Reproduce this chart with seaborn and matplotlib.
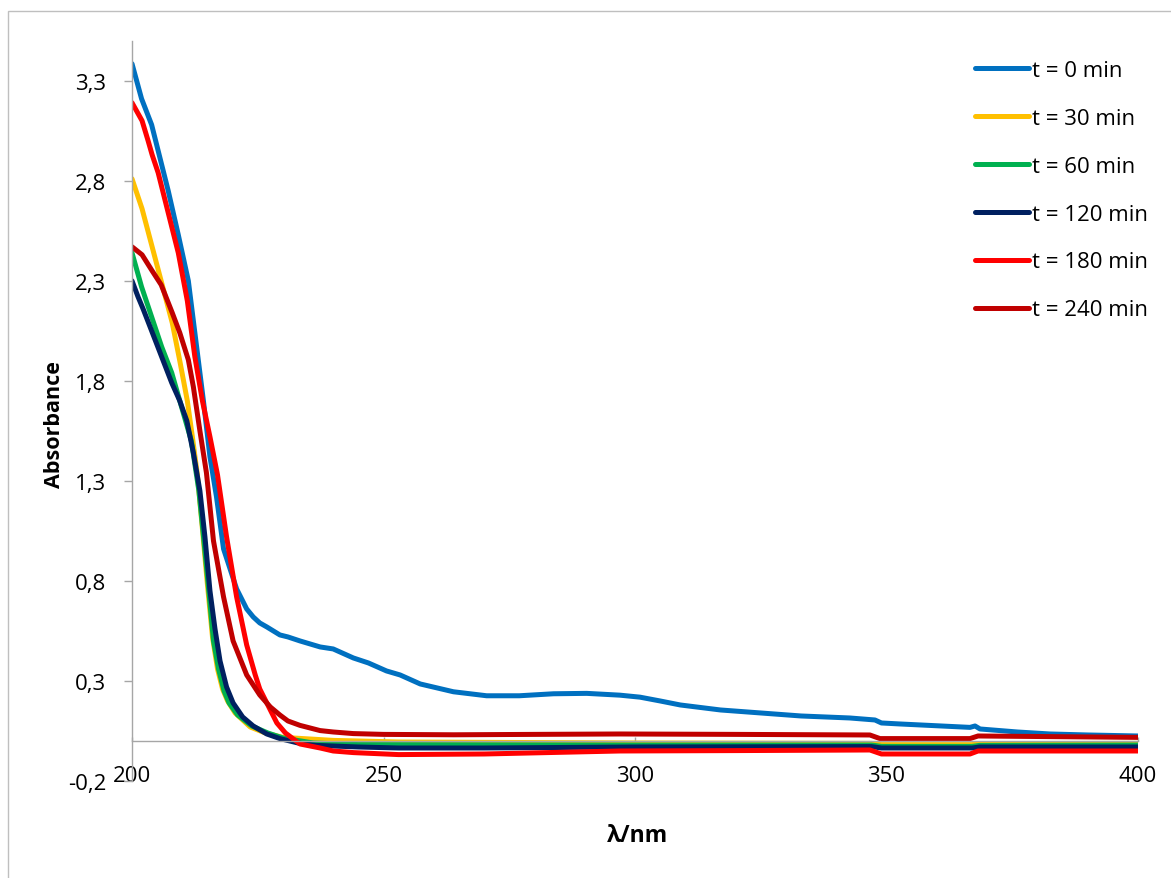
import numpy as np
import pandas as pd
import matplotlib
matplotlib.use("Agg")
import matplotlib.pyplot as plt
import seaborn as sns
from matplotlib.ticker import FuncFormatter, FixedLocator
from matplotlib.patches import Rectangle

# UV-Vis absorbance spectra recorded at successive irradiation times
series_names = ["t = 0 min", "t = 30 min", "t = 60 min", "t = 120 min", "t = 180 min", "t = 240 min"]
series_colors = ["#0070C0", "#FFC000", "#00B050", "#002060", "#FF0000", "#C00000"]

wl_t0 = [200, 201.9, 203.9, 205.2, 207.2, 209.2, 211.2, 212.5, 214.2, 215.5, 216.8, 218.2, 219.5,
         220.8, 222.8, 224.1, 225.4, 226.8, 229.4, 231, 233.4, 237.4, 240, 244, 247, 250.6, 253.3,
         257.3, 263.9, 270.5, 277, 283.8, 290.4, 297, 301, 305, 309, 317, 325, 333, 342.7, 347.7,
         349, 352.7, 366.6, 367.6, 368.6, 376, 382.5, 390, 400]
abs_t0 = [3.385, 3.21, 3.08, 2.95, 2.75, 2.53, 2.30, 2.04, 1.70, 1.42, 1.22, 0.96, 0.86,
          0.76, 0.66, 0.62, 0.59, 0.57, 0.53, 0.52, 0.50, 0.47, 0.46, 0.415, 0.39, 0.35, 0.33,
          0.285, 0.246, 0.226, 0.226, 0.236, 0.238, 0.229, 0.219, 0.20, 0.18, 0.155, 0.14, 0.125, 0.115, 0.105,
          0.09, 0.085, 0.068, 0.075, 0.06, 0.045, 0.035, 0.03, 0.025]

wl_t30 = [200, 202, 204, 206, 208, 209.5, 211, 212, 213, 214, 215, 216, 217, 218, 219, 220.5,
          223.5, 226.5, 230, 240, 253, 300, 347, 349, 367, 368.5, 400]
abs_t30 = [2.81, 2.66, 2.47, 2.28, 2.09, 1.90, 1.70, 1.52, 1.33, 1.06, 0.78, 0.52, 0.36, 0.26, 0.20, 0.14,
           0.07, 0.04, 0.018, 0.003, -0.005, -0.01, -0.012, -0.018, -0.018, -0.013, -0.012]

wl_t60 = [200, 201.9, 203.9, 205.9, 207.9, 209.5, 211.8, 213.3, 214.3, 215.3, 216.2, 217.2, 218.3,
          219.3, 221, 223.8, 227, 230, 236, 245, 300, 347, 349, 367, 368.5, 400]
abs_t60 = [2.44, 2.27, 2.12, 1.97, 1.84, 1.70, 1.50, 1.25, 1.00, 0.74, 0.50, 0.36, 0.25,
           0.19, 0.13, 0.075, 0.04, 0.015, -0.01, -0.018, -0.02, -0.02, -0.027, -0.027, -0.022, -0.02]

wl_t120 = [200, 201.2, 202.2, 203.9, 205.9, 207.9, 209.5, 210.9, 212.2, 213.5, 214.5, 215.5, 216.5,
           217.5, 218.8, 220.1, 222, 224.1, 226.8, 229.4, 233, 236.7, 245, 253, 270, 300, 347, 349,
           367, 368.5, 400]
abs_t120 = [2.30, 2.22, 2.16, 2.05, 1.92, 1.79, 1.70, 1.60, 1.44, 1.25, 1.02, 0.75, 0.56,
            0.40, 0.27, 0.19, 0.12, 0.075, 0.035, 0.012, -0.01, -0.022, -0.03, -0.035, -0.035, -0.03, -0.028, -0.035,
            -0.035, -0.03, -0.03]

wl_t180 = [200, 202, 203.2, 204, 205.2, 207.2, 209.2, 211, 212.5, 214, 215.5, 217, 218.8, 220.8,
           222.8, 224.5, 225.4, 226.8, 228.8, 230.5, 233.4, 237.4, 240, 244, 253, 270, 297, 320,
           346.7, 349, 366.6, 368.2, 400]
abs_t180 = [3.19, 3.10, 3.00, 2.93, 2.84, 2.64, 2.44, 2.20, 1.92, 1.70, 1.52, 1.33, 1.02, 0.72,
            0.48, 0.33, 0.26, 0.19, 0.09, 0.04, -0.015, -0.035, -0.05, -0.058, -0.068, -0.065, -0.05, -0.048,
            -0.045, -0.065, -0.065, -0.05, -0.05]

wl_t240 = [200, 202, 204, 205.8, 208, 209.5, 211.2, 212.2, 213.5, 214.8, 216.2, 218.2, 220.1, 222.8,
           225.4, 227.5, 229.4, 231, 233.4, 237.4, 240, 244, 250, 264, 280, 297, 320, 346.7, 348.7,
           366.6, 368.2, 400]
abs_t240 = [2.47, 2.43, 2.35, 2.28, 2.14, 2.04, 1.905, 1.77, 1.55, 1.34, 1.00, 0.72, 0.50, 0.33,
            0.23, 0.17, 0.13, 0.10, 0.078, 0.052, 0.045, 0.037, 0.033, 0.031, 0.033, 0.035, 0.033, 0.03, 0.012,
            0.012, 0.025, 0.018]

y_ticks = [-0.2, 0.3, 0.8, 1.3, 1.8, 2.3, 2.8, 3.3]
x_ticks = [200, 250, 300, 350, 400]

wavelengths = [wl_t0, wl_t30, wl_t60, wl_t120, wl_t180, wl_t240]
absorbances = [abs_t0, abs_t30, abs_t60, abs_t120, abs_t180, abs_t240]
frames = [pd.DataFrame({"wl": w, "A": a, "series": n})
          for w, a, n in zip(wavelengths, absorbances, series_names)]
df = pd.concat(frames, ignore_index=True)

sns.set_theme(style="white")
plt.rcParams["font.family"] = ["Open Sans", "DejaVu Sans"]

W, H = 1171, 879
fig = plt.figure(figsize=(W / 100, H / 100), dpi=100)
ax = fig.add_axes([132 / W, 1 - 782 / H, (1138 - 132) / W, (782 - 41.7) / H])

sns.lineplot(data=df, x="wl", y="A", hue="series", hue_order=series_names,
             palette=series_colors, estimator=None, sort=True, linewidth=3.6,
             ax=ax, legend=True)
for line in ax.get_lines():
    line.set_solid_joinstyle("round")
    line.set_solid_capstyle("round")

ax.set_xlim(200, 400)
ax.set_ylim(-0.2, 3.5)

axis_grey = "#a6a6a6"
for s in ["top", "right"]:
    ax.spines[s].set_visible(False)
ax.spines["left"].set_color(axis_grey)
ax.spines["left"].set_linewidth(1.0)
ax.spines["bottom"].set_position(("data", 0))
ax.spines["bottom"].set_color(axis_grey)
ax.spines["bottom"].set_linewidth(1.0)

ax.yaxis.set_major_locator(FixedLocator(y_ticks))
ax.xaxis.set_major_locator(FixedLocator(x_ticks))
comma = FuncFormatter(lambda v, p: f"{v:.1f}".replace(".", ","))
ax.yaxis.set_major_formatter(comma)
ax.xaxis.set_major_formatter(FuncFormatter(lambda v, p: f"{v:.0f}"))
ax.tick_params(axis="y", direction="out", length=6, width=1, color=axis_grey,
               labelsize=16, pad=12.5, left=True)
ax.tick_params(axis="x", direction="in", length=3, width=1, color=axis_grey,
               labelsize=16, pad=17.5, bottom=True)
for lab in ax.get_xticklabels() + ax.get_yticklabels():
    lab.set_color("black")

ax.set_xlabel("")
ax.set_ylabel("")
fig.text(55 / W, 1 - 425 / H, "Absorbance", rotation=90, ha="center", va="center",
         fontsize=15.5, fontweight="bold", color="black")
fig.text(637 / W, 1 - 836 / H, "λ/nm", ha="center", va="center",
         fontsize=16.5, fontweight="bold", color="black")

handles, labels = ax.get_legend_handles_labels()
ax.get_legend().remove()
leg = fig.legend(handles, labels, loc="upper left", bbox_to_anchor=(966 / W, 1 - 52 / H),
                 frameon=False, fontsize=16, handlelength=2.45, handletextpad=0.12,
                 labelspacing=1.21, borderaxespad=0)
for line in leg.get_lines():
    line.set_linewidth(3.6)
    line.set_solid_capstyle("round")
for t in leg.get_texts():
    t.set_color("black")

# outer chart-area border
fig.add_artist(Rectangle((8 / W, -0.1), 1.2, 1 - 12 / H + 0.1, transform=fig.transFigure,
                         fill=False, edgecolor="#bfbfbf", linewidth=1.0))

fig.savefig("out.png", dpi=100)
